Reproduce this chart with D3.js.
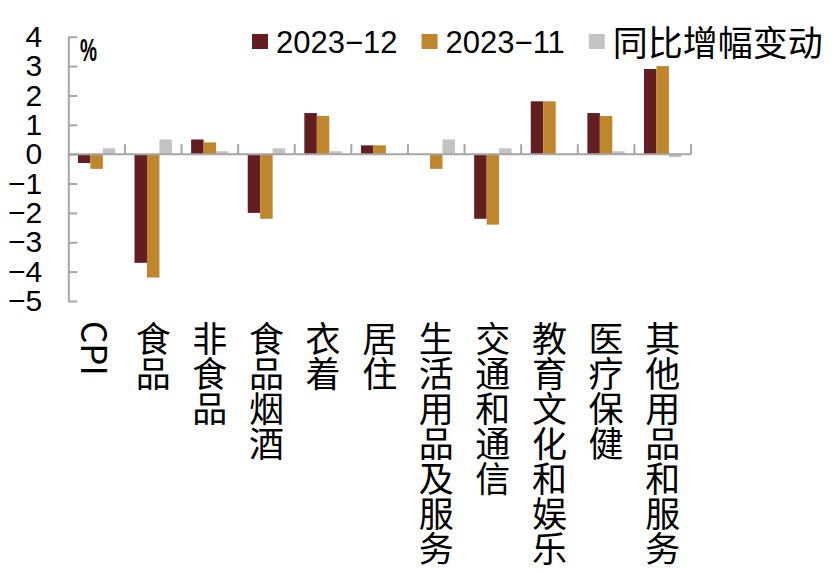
<!DOCTYPE html>
<html>
<head>
<meta charset="utf-8">
<script src="https://cdn.jsdelivr.net/npm/d3@7"></script>
<style>
  html, body { margin: 0; padding: 0; background: #fff; }
  svg { display: block; }
</style>
</head>
<body>
<svg id="chart"></svg>
<script>
// chart data
const categories = ["CPI", "食品", "非食品", "食品烟酒", "衣着", "居住", "生活用品及服务", "交通和通信", "教育文化和娱乐", "医疗保健", "其他用品和服务"];
const seriesNames = ["2023−12", "2023−11", "同比增幅变动"];
const dec2023 = [-0.3, -3.7, 0.5, -2.0, 1.4, 0.3, 0.0, -2.2, 1.8, 1.4, 2.9];
const nov2023 = [-0.5, -4.2, 0.4, -2.2, 1.3, 0.3, -0.5, -2.4, 1.8, 1.3, 3.0];
const yoyChange = [0.2, 0.5, 0.1, 0.2, 0.1, 0.0, 0.5, 0.2, 0.0, 0.1, -0.1];
const yTicks = [4, 3, 2, 1, 0, -1, -2, -3, -4, -5];

const colours = ["#621e20", "#c0862e", "#c3c3c3"];
const axisColour = "#a6a6a6";
const latinFont = "'Liberation Sans', Arial, sans-serif";
const cjkFont = "'Noto Sans CJK SC', 'Noto Sans', sans-serif";

const width = 832, height = 574;
const svg = d3.select("#chart").attr("width", width).attr("height", height);

const x = d3.scaleBand().domain(categories).range([68.3, 691]).paddingInner(0).paddingOuter(0);
const x1 = d3.scaleBand().domain(seriesNames).range([9.6, x.bandwidth() - 9.6]);
const y = d3.scaleLinear().domain([-5, 4]).range([301, 36.7]);

const rows = categories.map((c, i) => ({
    category: c,
    values: [dec2023[i], nov2023[i], yoyChange[i]]
}));

// bars
const groups = svg.append("g")
    .selectAll("g")
    .data(rows)
    .join("g")
    .attr("transform", d => `translate(${x(d.category)},0)`);

groups.selectAll("rect")
    .data(d => d.values.map((v, k) => ({series: seriesNames[k], value: v, k: k})))
    .join("rect")
    .attr("x", d => x1(d.series))
    .attr("width", x1.bandwidth())
    .attr("y", d => y(Math.max(0, d.value)))
    .attr("height", d => Math.abs(y(d.value) - y(0)))
    .attr("fill", d => colours[d.k]);

// y axis, ticks pointing inward
const yAxis = d3.axisLeft(y)
    .tickValues(yTicks)
    .tickSizeInner(-9)
    .tickSizeOuter(0)
    .tickPadding(26)
    .tickFormat(d3.format("d"));

const gy = svg.append("g")
    .attr("transform", `translate(${x.range()[0]},0)`)
    .call(yAxis);
gy.select(".domain").attr("stroke", axisColour).attr("stroke-width", 2);
gy.selectAll(".tick line").attr("stroke", axisColour).attr("stroke-width", 2);
gy.selectAll(".tick text")
    .attr("fill", "#000")
    .style("font-family", latinFont)
    .style("font-size", "30px");

// zero line with category separators
const gx = svg.append("g").attr("transform", `translate(0,${y(0)})`);
gx.append("line")
    .attr("x1", x.range()[0]).attr("x2", x.range()[1])
    .attr("stroke", axisColour).attr("stroke-width", 2);
gx.selectAll("line.sep")
    .data(categories.map(c => x(c) + x.bandwidth()))
    .join("line")
    .attr("class", "sep")
    .attr("x1", d => d).attr("x2", d => d)
    .attr("y1", 0).attr("y2", -10)
    .attr("stroke", axisColour).attr("stroke-width", 2);

// vertical category labels
svg.append("g")
    .selectAll("text")
    .data(categories)
    .join("text")
    .attr("x", d => x(d) + x.bandwidth() / 2)
    .attr("y", 321)
    .style("writing-mode", "vertical-rl")
    .style("text-orientation", "mixed")
    .style("font-family", cjkFont)
    .style("font-size", "35px")
    .attr("fill", "#000")
    .text(d => d);

// unit label
svg.append("text")
    .attr("x", 80)
    .attr("y", 61)
    .attr("textLength", 17)
    .attr("lengthAdjust", "spacingAndGlyphs")
    .style("font-family", latinFont)
    .style("font-weight", "bold")
    .style("font-size", "31px")
    .text("%");

// legend
const legend = svg.append("g");
let lx = 252;
seriesNames.forEach((name, k) => {
    legend.append("rect")
        .attr("x", lx).attr("y", 34)
        .attr("width", 16).attr("height", 15)
        .attr("fill", colours[k]);
    const isCjk = /[\u4e00-\u9fff]/.test(name);
    const t = legend.append("text")
        .attr("x", lx + 24)
        .attr("y", isCjk ? 56 : 53)
        .style("font-family", isCjk ? cjkFont : latinFont)
        .style("font-size", isCjk ? "35px" : "31px")
        .attr("fill", "#000")
        .text(name);
    lx += 24 + t.node().getComputedTextLength() + 24;
});
</script>
</body>
</html>
